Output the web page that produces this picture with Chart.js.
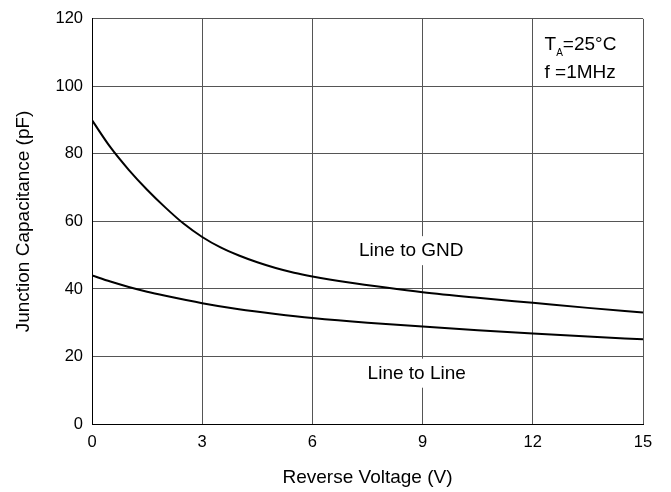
<!DOCTYPE html>
<html>
<head>
<meta charset="utf-8">
<script src="https://cdn.jsdelivr.net/npm/chart.js@4.4.0/dist/chart.umd.min.js"></script>
<style>
  html, body { margin: 0; padding: 0; background: #fff; }
  #wrap { width: 671px; height: 492px; }
</style>
</head>
<body>
<div id="wrap"><canvas id="capChart"></canvas></div>
<script>
// reverse voltage (V)
const voltsGnd = [0, 0.5, 1, 1.5, 2, 2.5, 3, 3.5, 4, 4.5, 5, 5.5, 6, 7, 8, 9, 10.5, 12, 13.5, 15];
const capGnd = [90, 82, 75.3, 69.4, 64.1, 59.3, 55.4, 52.3, 49.9, 47.9, 46.2, 44.8, 43.7, 41.9, 40.4, 39.05, 37.4, 35.9, 34.4, 33];

const voltsLine = [0, 0.5, 1, 1.5, 2, 3, 4, 5, 6, 7.5, 9, 10.5, 12, 13.5, 15];
const capLine = [44, 42.2, 40.6, 39.2, 38, 35.8, 34, 32.6, 31.4, 30, 28.9, 27.8, 26.8, 25.9, 25.1];

const xTicks = [0, 3, 6, 9, 12, 15];
const yTicks = [0, 20, 40, 60, 80, 100, 120];

// text labels placed in data coords
const curveLabels = [
  { text: 'Line to GND', x: 8.69, y: 51.2 },
  { text: 'Line to Line', x: 8.84, y: 14.9 },
];
const condLines = [
  { x: 12.32, y: 110.7 },   // T_A=25°C
  { x: 12.32, y: 102.4 },   // f =1MHz
];

const FONT = 'Liberation Sans, Arial, Helvetica, sans-serif';

function toPoints(xs, ys) {
  return xs.map((x, i) => ({ x: x, y: ys[i] }));
}

const labelPlugin = {
  id: 'labels',
  afterDatasetsDraw(chart) {
    const ctx = chart.ctx;
    const sx = chart.scales.x, sy = chart.scales.y;
    ctx.save();
    ctx.font = '19px ' + FONT;
    ctx.textAlign = 'center';
    ctx.textBaseline = 'middle';
    curveLabels.forEach(l => {
      const px = sx.getPixelForValue(l.x);
      const py = sy.getPixelForValue(l.y);
      const w = ctx.measureText(l.text).width;
      ctx.fillStyle = '#fff';
      ctx.fillRect(px - w / 2 - 3, py - 15, w + 6, 29);
      ctx.fillStyle = '#000';
      ctx.fillText(l.text, px, py);
    });

    // conditions box (top right)
    ctx.textAlign = 'left';
    ctx.textBaseline = 'alphabetic';
    let px = sx.getPixelForValue(condLines[0].x);
    let py = sy.getPixelForValue(condLines[0].y);
    ctx.fillStyle = '#000';
    ctx.fillText('T', px, py);
    px += ctx.measureText('T').width;
    ctx.font = '10px ' + FONT;
    ctx.fillText('A', px, py + 6);
    px += ctx.measureText('A').width;
    ctx.font = '19px ' + FONT;
    ctx.fillText('=25°C', px, py);
    ctx.fillText('f =1MHz', sx.getPixelForValue(condLines[1].x), sy.getPixelForValue(condLines[1].y));
    ctx.restore();
  }
};

const ctx = document.getElementById('capChart').getContext('2d');
new Chart(ctx, {
  type: 'scatter',
  data: {
    datasets: [
      {
        label: 'Line to GND',
        data: toPoints(voltsGnd, capGnd),
        showLine: true,
        borderColor: '#000',
        borderWidth: 2,
        pointRadius: 0,
        cubicInterpolationMode: 'monotone',
      },
      {
        label: 'Line to Line',
        data: toPoints(voltsLine, capLine),
        showLine: true,
        borderColor: '#000',
        borderWidth: 2,
        pointRadius: 0,
        cubicInterpolationMode: 'monotone',
      },
    ],
  },
  options: {
    responsive: true,
    maintainAspectRatio: false,
    animation: false,
    layout: { padding: { left: 0, top: 14, right: 28, bottom: 0 } },
    plugins: {
      legend: { display: false },
      tooltip: { enabled: false },
    },
    scales: {
      x: {
        type: 'linear',
        min: 0,
        max: 15,
        afterBuildTicks: s => { s.ticks = xTicks.map(v => ({ value: v })); },
        afterFit: s => { s.height = 68; },
        grid: { color: '#555', lineWidth: 1, drawTicks: false },
        border: { color: '#000', width: 1 },
        ticks: { color: '#000', padding: 9, font: { family: FONT, size: 16.5 } },
        title: {
          display: true,
          text: 'Reverse Voltage (V)',
          color: '#000',
          font: { family: FONT, size: 19 },
          padding: { top: 0, bottom: 3 },
        },
      },
      y: {
        min: 0,
        max: 120,
        afterBuildTicks: s => { s.ticks = yTicks.map(v => ({ value: v })); },
        afterFit: s => { s.width = 92; },
        grid: { color: '#555', lineWidth: 1, drawTicks: false },
        border: { color: '#000', width: 1 },
        ticks: { color: '#000', padding: 9, font: { family: FONT, size: 16.5 } },
        title: {
          display: true,
          text: 'Junction Capacitance (pF)',
          color: '#000',
          font: { family: FONT, size: 19 },
          padding: { top: 12, bottom: 0 },
        },
      },
    },
  },
  plugins: [labelPlugin],
});
</script>
</body>
</html>
